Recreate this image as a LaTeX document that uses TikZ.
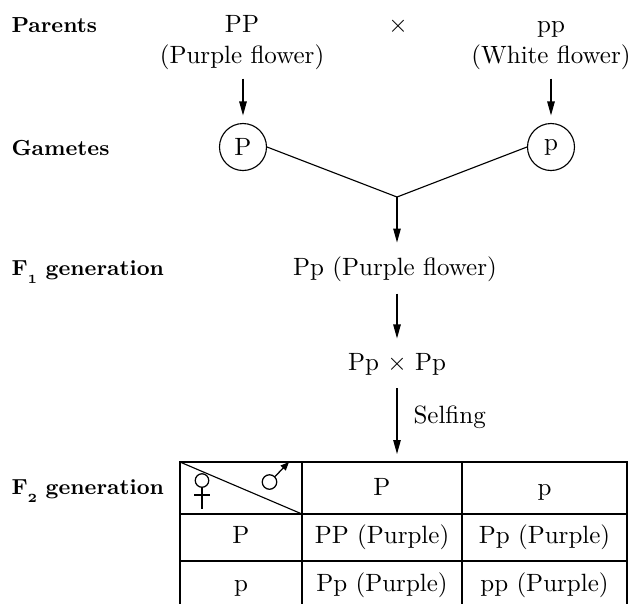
\documentclass[tikz,border=0pt]{standalone}
\usetikzlibrary{arrows.meta}
\newcommand\mysz{\fontsize{10}{12}\selectfont}
\newcommand\mylab{\fontsize{8.7}{11}\selectfont\bfseries}
\newcommand\gensub[1]{\raisebox{-3.2pt}{\fontsize{5}{6}\selectfont\bfseries #1}}
\begin{document}
\begin{tikzpicture}[x=0.4pt,y=-0.4pt,
  every node/.style={inner sep=0pt, font=\mysz},
  lab/.style={anchor=base west, font=\mylab},
  txt/.style={anchor=base},
  gam/.style={circle, draw, minimum size=18.8pt, line width=0.45pt},
  arr/.style={-{Triangle[length=5.6pt,width=3pt]}, line width=0.45pt},
  ln/.style={line width=0.45pt},
  grid/.style={line width=0.45pt},
  sym/.style={line width=0.5pt}]
\useasboundingbox (0,0) rectangle (633,603);

% row labels
\node[lab] (lpar) at (11,32) {Parents};
\node[lab] (lgam) at (11,155) {Gametes};
\node[lab] (lf1) at (11,275) {F\gensub{1} generation};
\node[lab] (lf2) at (11,494) {F\gensub{2} generation};

% parents
\node[txt] (PP) at (242,32) {PP};
\node[txt] (PPf) at (242,63) {(Purple flower)};
\node[txt] (cross) at (398,32) {$\times$};
\node[txt] (pp) at (551,32) {pp};
\node[txt] (ppf) at (551,63) {(White flower)};

% gametes
\node[gam] (gP) at (243,147) {P};
\node[gam] (gp) at (551,147) {p};
\coordinate (j) at (397,197);

\draw[arr, shorten <=3.5pt, shorten >=3pt] (PPf.south -| gP) -- (gP.north);
\draw[arr, shorten <=3.5pt, shorten >=3pt] (ppf.south -| gp) -- (gp.north);
\draw[ln] (gP.east) -- (j);
\draw[ln] (gp.west) -- (j);

% F1
\node[txt] (f1) at (395,275) {Pp (Purple flower)};
\draw[arr, shorten >=5.3pt] (j) -- (f1.north -| j);

\node[txt] (self) at (397,370) {Pp $\times$ Pp};
\draw[arr, shorten <=4.7pt, shorten >=5.6pt] (f1.south -| j) -- (self.north -| j);

% table
\coordinate (t00) at (180,462);
\coordinate (t11) at (302,514);
\coordinate (ttop) at (397,462);
\draw[arr, shorten <=5.2pt, shorten >=3.2pt] (self.south -| j) -- (ttop);
\node[anchor=base west] (selfing) at (413,423) {Selfing};

\draw[grid] (180,606) -- (180,462) -- (627,462) -- (627,606);
\draw[grid] (180,514) -- (627,514);
\draw[grid] (180,561) -- (627,561);
\draw[grid] (302,462) -- (302,606);
\draw[grid] (462,462) -- (462,606);
\draw[ln] (t00) -- (t11);

% female symbol
\node[circle, draw, sym, minimum size=5.4pt] (fem) at (202,480.5) {};
\coordinate (femb) at (202,509);
\draw[sym] (fem.south) -- (femb);
\draw[sym] (194,495) -- (210,495);
% male symbol
\node[circle, draw, sym, minimum size=5.8pt] (mal) at (269.5,482) {};
\coordinate (malt) at (289,462);
\draw[sym, -{Triangle[length=3.4pt,width=2.8pt]}] (mal.45) -- (malt);

\node[txt] (hP) at (382,495) {P};
\node[txt] (hp) at (544.5,495) {p};
\node[txt] (rP) at (241,543) {P};
\node[txt] (c11) at (382,543) {PP (Purple)};
\node[txt] (c12) at (544.5,543) {Pp (Purple)};
\node[txt] (rp) at (241,591) {p};
\node[txt] (c21) at (382,591) {Pp (Purple)};
\node[txt] (c22) at (544.5,591) {pp (Purple)};
\end{tikzpicture}
\end{document}
